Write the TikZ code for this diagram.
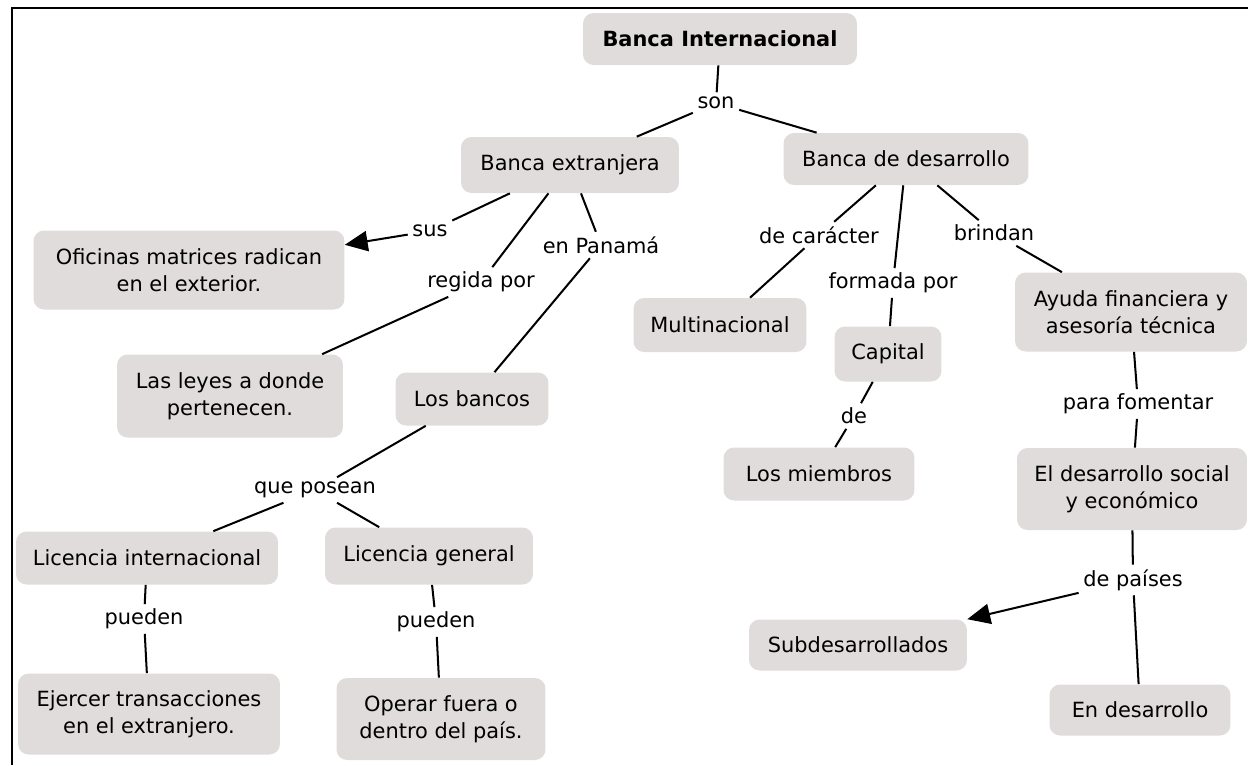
\documentclass[tikz,border=0pt]{standalone}
\usepackage{fontspec}
\setmainfont{DejaVu Sans}
\usepackage{tikz}
\usetikzlibrary{arrows.meta,positioning}
\definecolor{boxgray}{RGB}{223,220,219}

\begin{document}
\begin{tikzpicture}[x=0.02cm, y=-0.02cm,
    font=\fontsize{11.9}{15.3}\selectfont,
    concept/.style={rectangle, rounded corners=6pt, fill=boxgray, align=center, inner sep=0pt},
    linkword/.style={inner sep=2.5pt, align=center},
    every edge/.style={draw, line width=1.15pt},
    tip/.style={-{Triangle[length=13pt,width=11.5pt]}}]
        \useasboundingbox (0,0) rectangle (1248,765);
        \draw[line width=1.4pt] (1248,8) -- (12,8) -- (12,765);
        % concepts
        \node[concept, minimum width=5.48cm, minimum height=1.04cm] (BI) at (720,39) {\textbf{Banca Internacional}};
        \node[concept, minimum width=4.36cm, minimum height=1.12cm] (BE) at (570,165) {Banca extranjera};
        \node[concept, minimum width=4.90cm, minimum height=1.04cm] (BD) at (906,159) {Banca de desarrollo};
        \node[concept, minimum width=6.22cm, minimum height=1.58cm] (OF) at (189,270) {Oficinas matrices radican\\en el exterior.};
        \node[concept, minimum width=4.52cm, minimum height=1.66cm] (LY) at (230,396) {Las leyes a donde\\pertenecen.};
        \node[concept, minimum width=3.06cm, minimum height=1.06cm] (LB) at (472,399) {Los bancos};
        \node[concept, minimum width=5.24cm, minimum height=1.06cm] (LI) at (147,558) {Licencia internacional};
        \node[concept, minimum width=4.16cm, minimum height=1.14cm] (LG) at (429,556) {Licencia general};
        \node[concept, minimum width=5.24cm, minimum height=1.62cm] (EJ) at (149,714) {Ejercer transacciones\\en el extranjero.};
        \node[concept, minimum width=4.18cm, minimum height=1.64cm] (OP) at (441,719) {Operar fuera o\\dentro del país.};
        \node[concept, minimum width=3.46cm, minimum height=1.08cm] (MU) at (720,325) {Multinacional};
        \node[concept, minimum width=2.14cm, minimum height=1.10cm] (CA) at (888,354) {Capital};
        \node[concept, minimum width=3.82cm, minimum height=1.06cm] (MI) at (819,474) {Los miembros};
        \node[concept, minimum width=4.64cm, minimum height=1.58cm] (AY) at (1131,312) {Ayuda financiera y\\asesoría técnica};
        \node[concept, minimum width=4.60cm, minimum height=1.64cm] (ED) at (1132,489) {El desarrollo social\\y económico};
        \node[concept, minimum width=4.36cm, minimum height=1.02cm] (SD) at (858,645) {Subdesarrollados};
        \node[concept, minimum width=3.62cm, minimum height=1.02cm] (EN) at (1140,710) {En desarrollo};
        % linking words
        \node[linkword] (son) at (716,103) {son};
        \node[linkword] (sus) at (430,231) {sus};
        \node[linkword] (regida) at (481,282) {regida por};
        \node[linkword] (panama) at (601,245) {en Panamá};
        \node[linkword] (posean) at (315,490) {que posean};
        \node[linkword] (puedenI) at (144,619) {pueden};
        \node[linkword] (puedenG) at (436,622) {pueden};
        \node[linkword] (caracter) at (819,235) {de carácter};
        \node[linkword] (formada) at (893,283) {formada por};
        \node[linkword] (brindan) at (994,233) {brindan};
        \node[linkword] (de) at (854,416) {de};
        \node[linkword] (fomentar) at (1138,404) {para fomentar};
        \node[linkword] (paises) at (1133,580) {de países};
        \path
          (BI) edge (son)
          (son) edge (BE)
          (son) edge (BD)
          (BE) edge (sus)
          (sus) edge [tip] (OF)
          (BE) edge (regida)
          (regida) edge (LY)
          (BE) edge (panama)
          (panama) edge (LB)
          (LB) edge (posean)
          (posean) edge (LI)
          (posean) edge (LG)
          (LI) edge (puedenI)
          (puedenI) edge (EJ)
          (LG) edge (puedenG)
          (puedenG) edge (OP)
          (BD) edge (caracter)
          (caracter) edge (MU)
          (BD) edge (formada)
          (formada) edge (CA)
          (CA) edge (de)
          (de) edge (MI)
          (BD) edge (brindan)
          (brindan) edge (AY)
          (AY) edge (fomentar)
          (fomentar) edge (ED)
          (ED) edge (paises)
          (paises) edge [tip] (SD)
          (paises) edge (EN);
\end{tikzpicture}
\end{document}
